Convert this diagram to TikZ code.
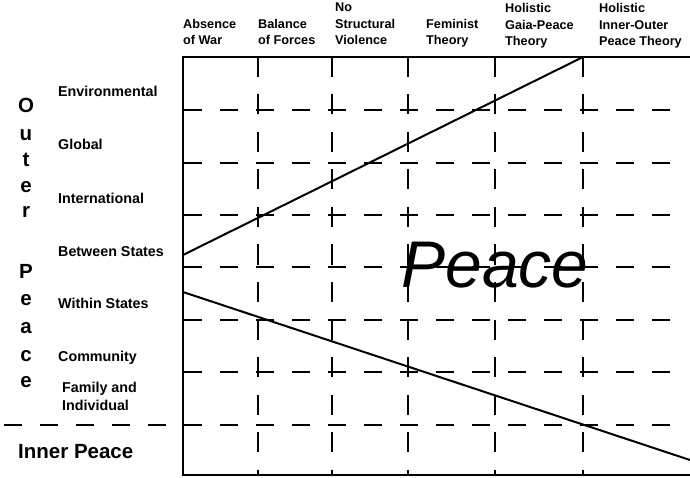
\documentclass[tikz,border=0pt]{standalone}
\usepackage{fontspec}
\setmainfont{Liberation Sans}
\begin{document}
\begin{tikzpicture}[x=1pt,y=-1pt,
  hdr/.style={font=\bfseries\fontsize{12.7}{16.5}\selectfont, anchor=base west, inner sep=0pt, align=left},
  lbl/.style={font=\bfseries\fontsize{14.3}{18}\selectfont, anchor=base west, inner sep=0pt},
  vletter/.style={font=\bfseries\fontsize{20.5}{24}\selectfont, anchor=base, inner sep=0pt},
  frame/.style={line width=2pt},
  diag/.style={line width=2pt},
  hdash/.style={line width=1.9pt, dash pattern=on 18pt off 18pt},
  vdash/.style={line width=1.9pt, dash pattern=on 20pt off 17.5pt},
]
\useasboundingbox (0,0) rectangle (690,478);

% frame corners
\coordinate (tl) at (183,57);
\coordinate (tr) at (690,57);
\coordinate (bl) at (183,475);
\coordinate (br) at (690,475);

% horizontal dashed lines
\foreach \y [count=\i] in {110,163,215,267,320,372} {
  \coordinate (hs\i) at (184,\y);
  \coordinate (he\i) at (670,\y);
  \draw[hdash] (hs\i) -- (he\i);
}
\coordinate (innerS) at (4,425);
\coordinate (innerE) at (670,425);
\draw[hdash] (innerS) -- (innerE);

% vertical dashed lines
\foreach \x [count=\i] in {258,332,408,495,583} {
  \coordinate (vs\i) at (\x,57);
  \coordinate (ve\i) at (\x,475);
  \draw[vdash] (vs\i) -- (ve\i);
}

% frame
\draw[frame] (tr) -- (tl) -- (bl) -- (br);

% diagonals
\coordinate (u1) at (183,255);
\coordinate (u2) at (583,57);
\coordinate (l1) at (183,292);
\coordinate (l2) at (690,460);
\draw[diag] (u1) -- (u2);
\draw[diag] (l1) -- (l2);

% headers (anchored at the baseline of the last line)
\node[hdr] (h1) at (183,45) {Absence\\of War};
\node[hdr] (h2) at (258,45) {Balance\\of Forces};
\node[hdr] (h3) at (335,45) {No\\Structural\\Violence};
\node[hdr] (h4) at (426,45) {Feminist\\Theory};
\node[hdr] (h5) at (505,46) {Holistic\\Gaia-Peace\\Theory};
\node[hdr] (h6) at (599,46) {Holistic\\Inner-Outer\\Peace Theory};

% row labels
\node[lbl] (r1) at (58,97) {Environmental};
\node[lbl] (r2) at (58,150) {Global};
\node[lbl] (r3) at (58,204) {International};
\node[lbl] (r4) at (58,256) {Between States};
\node[lbl] (r5) at (58,308) {Within States};
\node[lbl] (r6) at (58,361) {Community};
\node[lbl] (r7) at (62,392) {Family and};
\node[lbl] (r8) at (62,410) {Individual};

% vertical "Outer Peace"
\foreach \l/\y [count=\i] in {O/113,u/141,t/167,e/193,r/218,P/278,e/305,a/333,c/361,e/387} {
  \node[vletter] (op\i) at (26,\y) {\l};
}

% Inner Peace
\node[font=\bfseries\fontsize{20.5}{24}\selectfont, anchor=base west, inner sep=0pt] (inner) at (18,458) {Inner Peace};

% Peace
\node[font=\itshape\fontsize{66}{70}\selectfont, anchor=base, inner sep=0pt] (peace) at (495,287) {Peace};
\end{tikzpicture}
\end{document}
